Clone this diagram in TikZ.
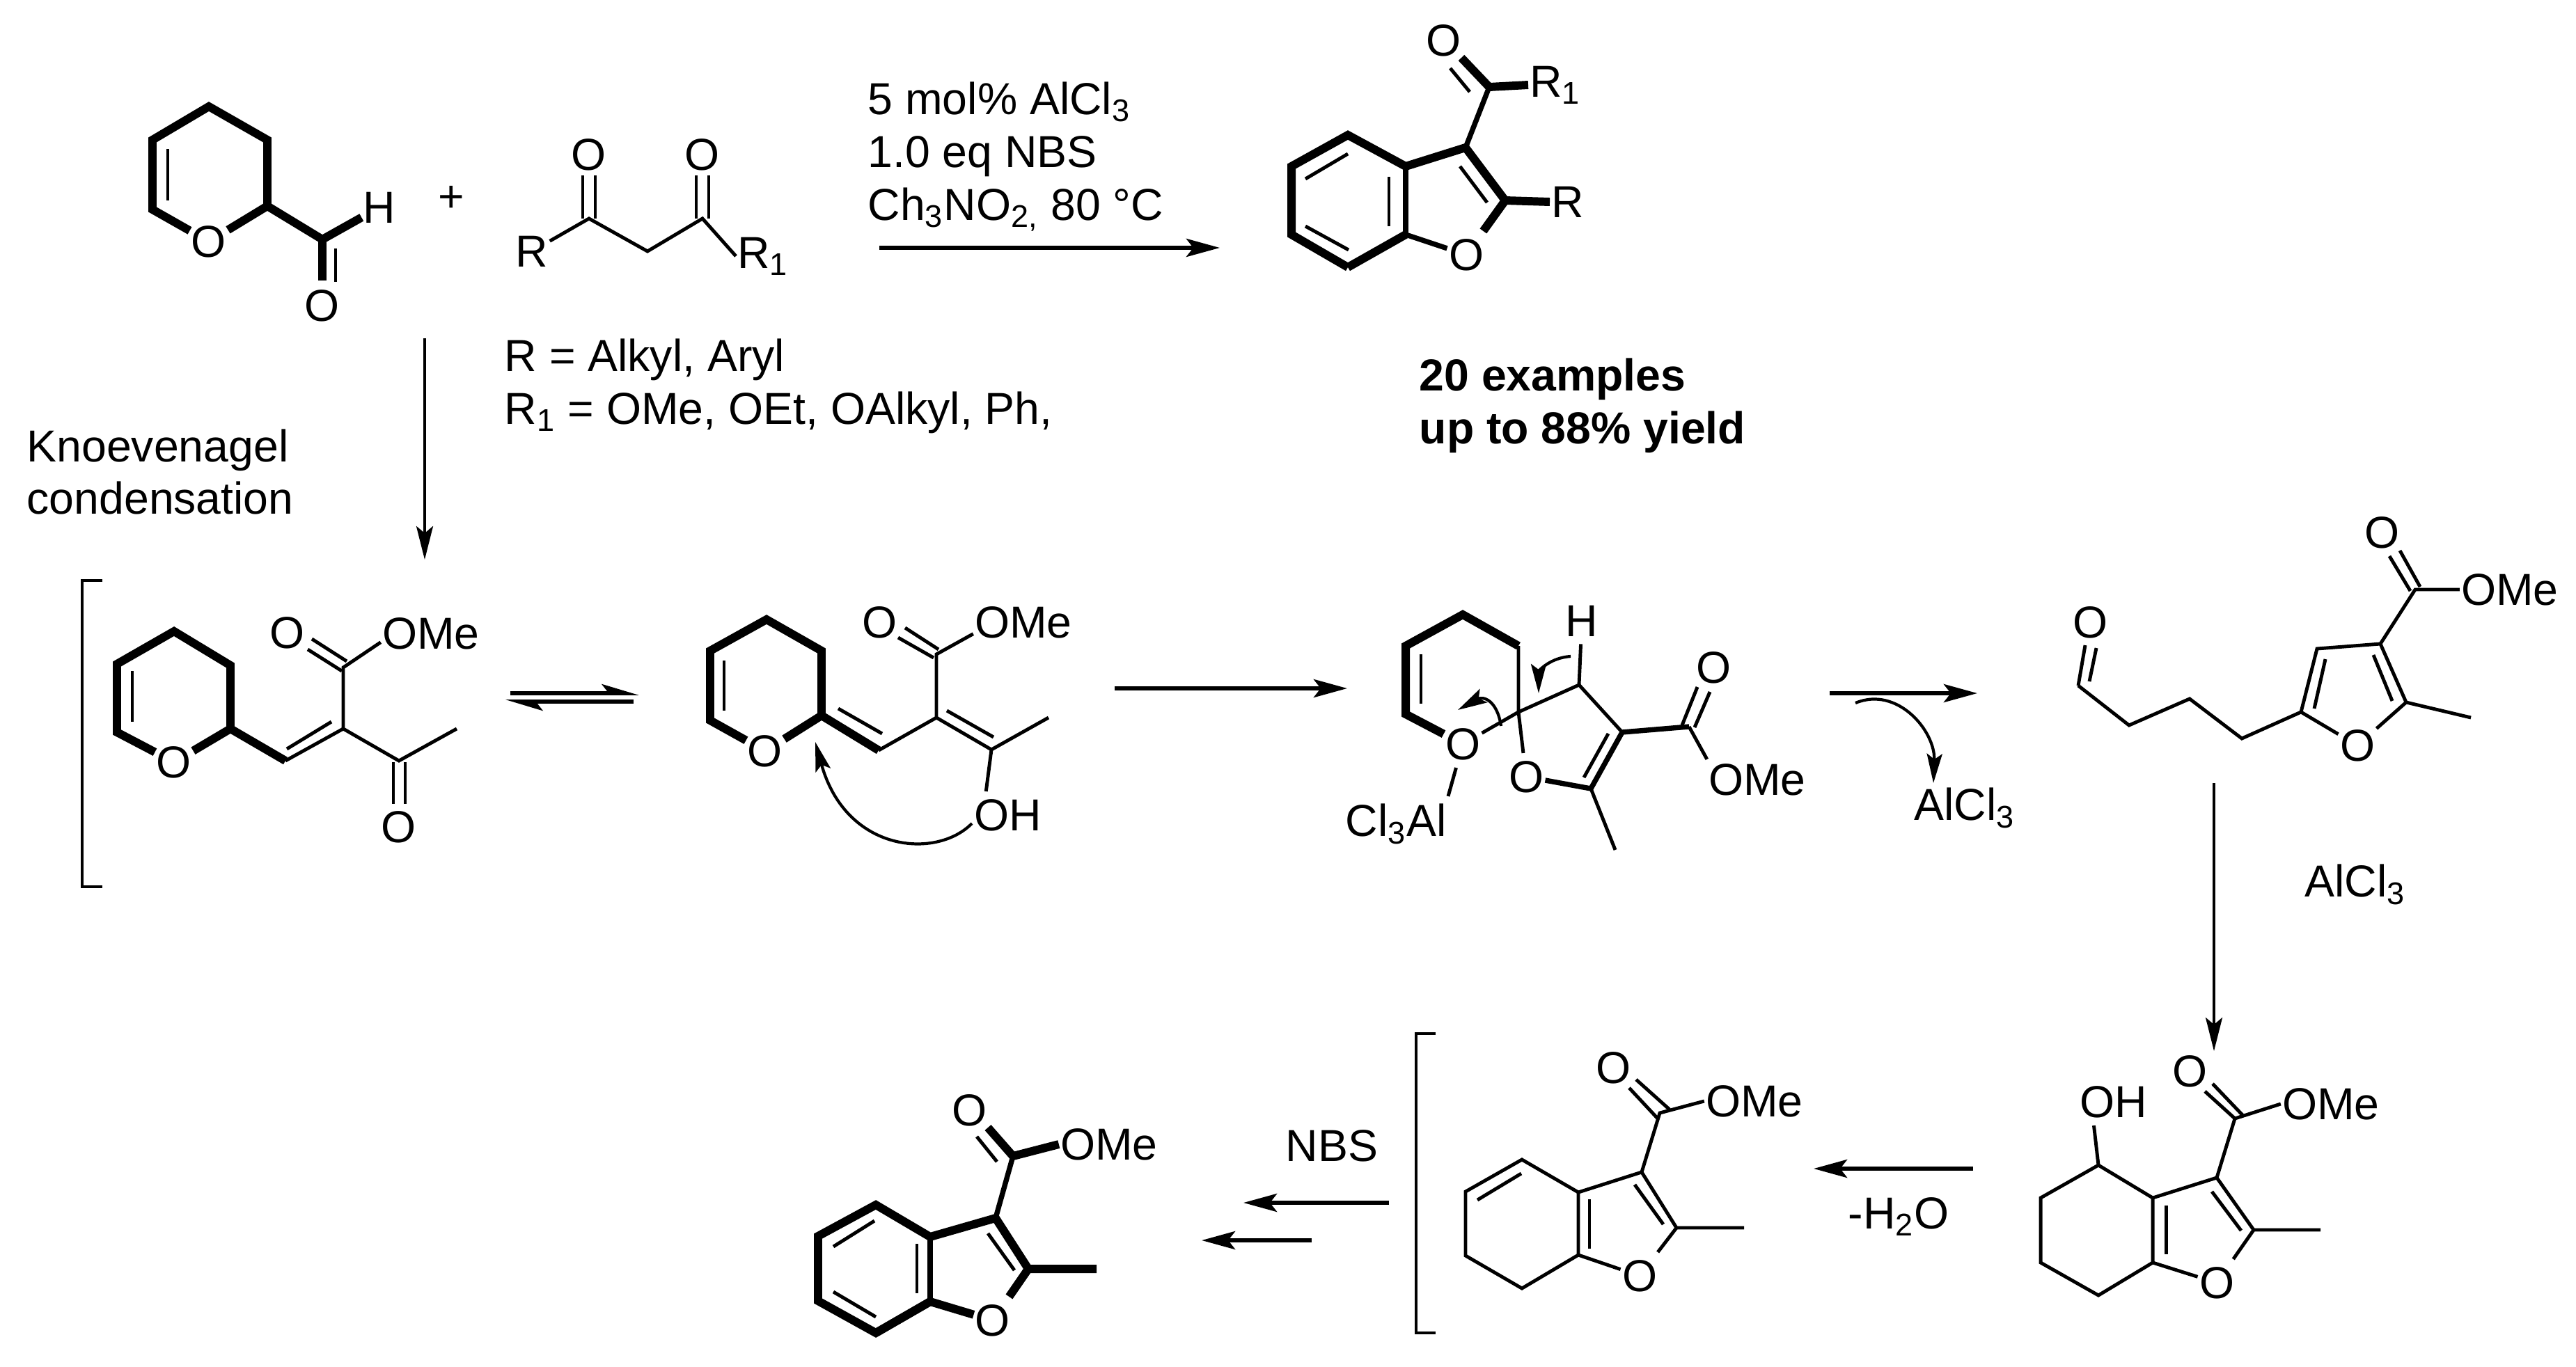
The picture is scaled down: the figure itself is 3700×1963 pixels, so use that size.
\documentclass[tikz,border=0pt]{standalone}
\usepackage{fontspec}
\setmainfont{Liberation Sans}
\usetikzlibrary{arrows.meta}
\tikzset{
  atom/.style={inner xsep=0.5pt,inner ysep=3pt},
  bond/.style={line width=1.4pt},
  midbond/.style={line width=2.1pt},
  boldbond/.style={line width=3.4pt},
  rxn/.style={line width=1.6pt,-{Stealth[length=4.8mm,width=2.6mm,inset=1mm]}},
  thinrxn/.style={line width=1.2pt,-{Stealth[length=4.8mm,width=2.4mm,inset=1mm]}},
  eqm/.style={line width=1.6pt,-{Stealth[harpoon,length=4.4mm,width=2.6mm,inset=1mm]}},
  curly/.style={line width=1.2pt,-{Stealth[length=4.2mm,width=2.2mm,inset=0.8mm]}},
  brack/.style={line width=1.4pt},
  note/.style={align=left,anchor=west,inner sep=0pt}
}
\begin{document}
\begin{tikzpicture}[x=0.01cm,y=-0.01cm,font=\fontsize{18.3}{21.6}\selectfont]
\useasboundingbox (0,0) rectangle (3700,1963);

\node[atom] (oa) at (300,347) {O};
\node[atom] (ha) at (545,298) {H};
\node[atom] (ob) at (463,439) {O};
\draw[boldbond] (oa) -- (219,301) -- (219,201) -- (300,153) -- (384,201) -- (384,296) -- (oa);
\draw[boldbond] (384,296) -- (463,344) -- (ha);
\draw[boldbond] (463,344) -- (463,403);
\draw[bond] (482,357) -- (482,405);
\draw[bond] (241,214) -- (241,288);
\node at (648,286) (plus) {+};

\node[atom] (oc) at (846,222) {O};
\node[atom] (od) at (1009,222) {O};
\node[atom] (ra) at (764,361) {R};
\node[atom,anchor=west] (rb) at (1057,368) {R\textsubscript{1}};
\draw[bond] (ra) -- (846,314) -- (930,361) -- (1009,314) -- (rb.west);
\draw[bond] (837,314) -- (837,252);
\draw[bond] (855,314) -- (855,252);
\draw[bond] (1000,314) -- (1000,252);
\draw[bond] (1018,314) -- (1018,252);

\node[note] (cond) at (1246,225) {5 mol\% AlCl\textsubscript{3}\\1.0 eq NBS\\Ch\textsubscript{3}NO\textsubscript{2,} 80 °C};
\node[note] (scope) at (724,555) {R = Alkyl, Aryl\\R\textsubscript{1} = OMe, OEt, OAlkyl, Ph,};
\node[note] (knoev) at (38,678) {Knoevenagel\\condensation};
\node[note,font=\fontsize{18.3}{21.6}\selectfont\bfseries] (yield) at (2038,583) {20 examples\\up to 88\% yield};

\coordinate (arra) at (1263,356);
\coordinate (arrb) at (1752,356);
\draw[rxn] (arra) -- (arrb);
\coordinate (arrc) at (610,486);
\coordinate (arrd) at (610,804);
\draw[thinrxn] (arrc) -- (arrd);

\node[atom] (oe) at (2073,58) {O};
\node[atom,anchor=west] (rc) at (2195,122) {R\textsubscript{1}};
\node[atom,anchor=west] (rd) at (2226,290) {R};
\node[atom] (of) at (2106,366) {O};
\draw[boldbond] (2139,125) -- (rc.west);
\draw[boldbond] (2139,125) -- (2099,83);
\draw[midbond] (2139,125) -- (2105,212);
\draw[bond] (2111,132) -- (2083,98);
\draw[boldbond] (1936,384) -- (1855,337) -- (1855,239) -- (1936,194) -- (2019,239) -- (2105,212) -- (2162,288);
\draw[boldbond] (2162,288) -- (rd.west);
\draw[boldbond] (2162,288) -- (of);
\draw[boldbond] (1936,384) -- (2019,337);
\draw[midbond] (2019,337) -- (2019,239);
\draw[midbond] (2019,337) -- (of);
\draw[bond] (1936,221) -- (1875,257);
\draw[bond] (1875,325) -- (1937,359);
\draw[bond] (1995,254) -- (1995,325);
\draw[bond] (2097,239) -- (2136,291);

\draw[brack] (147,834) -- (118,834) -- (118,1274) -- (147,1274);

\node[atom] (og) at (250,1095) {O};
\node[atom] (oh) at (413,909) {O};
\node[atom] (omea) at (619,910) {OMe};
\node[atom] (oi) at (573,1188) {O};
\draw[boldbond] (og) -- (168,1052) -- (168,954) -- (250,907) -- (331,956) -- (331,1047) -- (og);
\draw[boldbond] (331,1047) -- (410,1093);
\draw[bond] (410,1093) -- (493,1047) -- (493,959) -- (omea.190);
\draw[bond] (412,1076) -- (476,1037);
\draw[bond] (190,964) -- (190,1037);
\draw[bond] (491,964) -- (442,933);
\draw[bond] (498,950) -- (448,918);
\draw[bond] (493,1047) -- (573,1093) -- (656,1047);
\draw[bond] (565,1095) -- (565,1155);
\draw[bond] (582,1095) -- (582,1155);

\coordinate (eqa) at (733,996);
\coordinate (eqb) at (918,996);
\coordinate (eqc) at (910,1008);
\coordinate (eqd) at (726,1008);
\draw[eqm] (eqa) -- (eqb);
\draw[eqm] (eqc) -- (eqd);

\node[atom] (oj) at (1099,1079) {O};
\node[atom] (ok) at (1264,894) {O};
\node[atom] (omeb) at (1470,894) {OMe};
\node[atom] (ohb) at (1448,1171) {OH};
\draw[boldbond] (oj) -- (1020,1035) -- (1020,935) -- (1101,890) -- (1180,935) -- (1180,1028) -- (oj);
\draw[boldbond] (1180,1028) -- (1262,1078);
\draw[bond] (1262,1078) -- (1345,1031) -- (1345,940) -- (omeb.193);
\draw[bond] (1204,1018) -- (1267,1054);
\draw[bond] (1040,949) -- (1040,1021);
\draw[bond] (1348,933) -- (1300,902);
\draw[bond] (1341,945) -- (1290,916);
\draw[bond] (1345,1031) -- (1424,1077) -- (1506,1031);
\draw[bond] (1360,1021) -- (1427,1059);
\draw[bond] (1424,1077) -- (ohb.133);
\coordinate (cura) at (1396,1183);
\coordinate (curb) at (1171,1066);
\draw[curly] (cura) .. controls (1345,1235) and (1215,1225) .. (curb);

\coordinate (arre) at (1601,989);
\coordinate (arrf) at (1935,989);
\draw[rxn] (arre) -- (arrf);

\node[atom] (ol) at (2101,1069) {O};
\node[atom] (hc) at (2272,892) {H};
\node[atom] (om) at (2192,1116) {O};
\node[atom] (on) at (2461,959) {O};
\node[atom] (omec) at (2524,1120) {OMe};
\node[atom,anchor=east] (clal) at (2080,1184) {Cl\textsubscript{3}Al};
\draw[boldbond] (ol) -- (2019,1026) -- (2019,928) -- (2101,883) -- (2181,928);
\draw[bond] (2181,928) -- (2181,1023) -- (om);
\draw[bond] (ol) -- (2181,1023) -- (2268,984) -- (hc);
\draw[bond] (2041,940) -- (2041,1011);
\draw[bond] (2268,984) -- (2330,1052);
\draw[midbond] (2330,1052) -- (2426,1044);
\draw[midbond] (2330,1052) -- (2285,1133);
\draw[midbond] (2285,1133) -- (om);
\draw[bond] (2310,1054) -- (2275,1117);
\draw[bond] (2285,1133) -- (2320,1221);
\draw[bond] (2426,1044) -- (omec.158);
\draw[bond] (2416,1042) -- (2438,987);
\draw[bond] (2434,1045) -- (2456,994);
\draw[bond] (ol) -- (clal.north east);
\coordinate (curc) at (2256,943);
\coordinate (curd) at (2210,996);
\draw[curly] (curc) .. controls (2225,945) and (2210,965) .. (curd);
\coordinate (cure) at (2156,1043);
\coordinate (curf) at (2094,1020);
\draw[curly] (cure) .. controls (2150,1005) and (2130,1000) .. (curf);

\coordinate (arrg) at (2628,996);
\coordinate (arrh) at (2840,996);
\draw[rxn] (arrg) -- (arrh);
\coordinate (curg) at (2665,1010);
\coordinate (curh) at (2777,1125);
\draw[curly] (curg) .. controls (2725,985) and (2780,1050) .. (curh);
\node[atom] (alcla) at (2822,1161) {AlCl\textsubscript{3}};

\node[atom] (oo) at (3002,894) {O};
\node[atom] (op) at (3386,1071) {O};
\node[atom] (oq) at (3421,765) {O};
\node[atom] (omed) at (3605,847) {OMe};
\draw[bond] (2985,985) -- (3058,1042) -- (3145,1004) -- (3220,1061) -- (3305,1023) -- (3328,932) -- (3419,925) -- (3456,1009) -- (3549,1031);
\draw[bond] (3305,1023) -- (op);
\draw[bond] (3456,1009) -- (op);
\draw[bond] (2985,985) -- (2995,927);
\draw[bond] (3001,979) -- (3011,931);
\draw[bond] (3340,947) -- (3324,1018);
\draw[bond] (3409,941) -- (3436,1007);
\draw[bond] (3419,925) -- (3469,847) -- (omed.west);
\draw[bond] (3462,849) -- (3432,799);
\draw[bond] (3476,843) -- (3447,791);

\coordinate (arri) at (3180,1125);
\coordinate (arrj) at (3180,1510);
\draw[thinrxn] (arri) -- (arrj);
\node[atom] (alclb) at (3383,1271) {AlCl\textsubscript{3}};

\node[atom] (ohc) at (3036,1583) {OH};
\node[atom] (or) at (3145,1539) {O};
\node[atom] (omee) at (3348,1586) {OMe};
\node[atom] (os) at (3184,1843) {O};
\draw[bond] (3014,1674) -- (ohc.230);
\draw[bond] (3014,1674) -- (2931,1721) -- (2931,1814) -- (3014,1861) -- (3092,1814) -- (3092,1721) -- cycle;
\draw[bond] (3092,1721) -- (3184,1692) -- (3237,1767) -- (3333,1767);
\draw[bond] (3237,1767) -- (os);
\draw[bond] (3092,1814) -- (os);
\draw[bond] (3111,1732) -- (3111,1802);
\draw[bond] (3177,1712) -- (3219,1768);
\draw[bond] (3184,1692) -- (3210,1607) -- (omee.west);
\draw[bond] (3210,1607) -- (3167,1568);
\draw[bond] (3221,1602) -- (3178,1557);

\coordinate (arrk) at (2834,1679);
\coordinate (arrl) at (2605,1679);
\draw[rxn] (arrk) -- (arrl);
\node[atom] (water) at (2727,1748) {-H\textsubscript{2}O};

\draw[brack] (2062,1485) -- (2034,1485) -- (2034,1915) -- (2062,1915);

\node[atom] (ot) at (2317,1534) {O};
\node[atom] (omef) at (2520,1582) {OMe};
\node[atom] (ou) at (2355,1833) {O};
\draw[bond] (2186,1666) -- (2105,1712) -- (2105,1804) -- (2186,1851) -- (2267,1803) -- (2267,1713) -- cycle;
\draw[bond] (2267,1713) -- (2358,1684) -- (2408,1764) -- (2505,1764);
\draw[bond] (2408,1764) -- (ou);
\draw[bond] (2267,1803) -- (ou);
\draw[bond] (2185,1686) -- (2122,1724);
\draw[bond] (2283,1723) -- (2283,1794);
\draw[bond] (2348,1702) -- (2389,1759);
\draw[bond] (2358,1684) -- (2384,1599) -- (omef.west);
\draw[bond] (2381,1607) -- (2340,1563);
\draw[bond] (2398,1594) -- (2350,1551);

\node[atom] (nbs) at (1913,1646) {NBS};
\coordinate (arrm) at (1995,1728);
\coordinate (arrn) at (1786,1728);
\draw[rxn] (arrm) -- (arrn);
\coordinate (arro) at (1884,1782);
\coordinate (arrp) at (1726,1782);
\draw[rxn] (arro) -- (arrp);

\node[atom] (ov) at (1393,1595) {O};
\node[atom] (omeg) at (1593,1644) {OMe};
\node[atom] (ow) at (1426,1897) {O};
\draw[boldbond] (1336,1870) -- (1258,1915) -- (1175,1869) -- (1175,1776) -- (1258,1731) -- (1336,1777) -- (1430,1750) -- (1477,1823) -- (1575,1823);
\draw[boldbond] (1258,1915) -- (1336,1870);
\draw[boldbond] (1477,1823) -- (ow);
\draw[boldbond] (1336,1870) -- (ow);
\draw[midbond] (1336,1870) -- (1336,1777);
\draw[midbond] (1430,1750) -- (1455,1661);
\draw[boldbond] (1455,1661) -- (1419,1620);
\draw[boldbond] (1455,1661) -- (omeg.west);
\draw[bond] (1432,1669) -- (1403,1633);
\draw[bond] (1256,1754) -- (1197,1791);
\draw[bond] (1197,1856) -- (1258,1892);
\draw[bond] (1317,1787) -- (1317,1858);
\draw[bond] (1419,1772) -- (1457,1825);
\end{tikzpicture}
\end{document}
